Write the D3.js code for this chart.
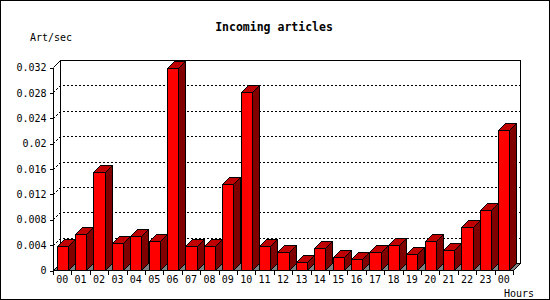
<!DOCTYPE html>
<html><head><meta charset="utf-8">
<script src="https://cdn.jsdelivr.net/npm/d3@7"></script>
<style>html,body{margin:0;padding:0;background:#fff}svg{display:block}</style>
</head><body>
<svg id="c" width="550" height="300"></svg>
<script>
const hours = ["00","01","02","03","04","05","06","07","08","09","10","11","12","13","14","15","16","17","18","19","20","21","22","23","00"];
const artPerSec = [0.0038,0.0056,0.0155,0.0042,0.0053,0.0045,0.0319,0.0038,0.0038,0.0136,0.0280,0.0038,0.0028,0.0012,0.0034,0.0020,0.0017,0.0028,0.0039,0.0025,0.0045,0.0031,0.0067,0.0094,0.0220];
const yTicks = [0,0.004,0.008,0.012,0.016,0.02,0.024,0.028,0.032];
const yTickLabels = ["0","0.004","0.008","0.012","0.016","0.02","0.024","0.028","0.032"];
const gridValues = [0.004,0.008,0.012,0.016,0.02,0.024,0.028];
const title = "Incoming articles";
const yTitle = "Art/sec";
const xTitle = "Hours";

const svg = d3.select("#c");
const mono = "'DejaVu Sans Mono', 'Liberation Mono', monospace";
const DX = 7, DY = 7;
const X0 = 53, X1 = 513, Y0 = 270, YT = 67;

const x = d3.scaleBand().domain(d3.range(hours.length)).range([X0, X1]).paddingInner(0.4).paddingOuter(0.2);
const step = x.step();
const y = d3.scaleLinear().domain([0, 0.032]).range([Y0, YT]);

// border
svg.append("rect").attr("x",0.5).attr("y",0.5).attr("width",549).attr("height",299)
  .attr("fill","#fff").attr("stroke","#000");

const g = svg.append("g").attr("shape-rendering","crispEdges");

// floor
const yb = y(0);
g.append("path")
  .attr("d", `M${X0+0.5},${yb+0.5}L${X1+0.5},${yb+0.5}L${X1+DX+0.5},${yb-DY+0.5}L${X0+DX+0.5},${yb-DY+0.5}Z`)
  .attr("fill","#808080").attr("stroke","#000");

// back wall lines
const ytop = y(0.032);
g.append("path")
  .attr("d", `M${X0+DX+0.5},${yb-DY+0.5}V${ytop-DY+0.5}H${X1+DX+0.5}V${yb-DY+0.5}`)
  .attr("fill","none").attr("stroke","#000");
g.append("path")
  .attr("d", `M${X0+0.5},${ytop+0.5}L${X0+DX+0.5},${ytop-DY+0.5}`)
  .attr("fill","none").attr("stroke","#000").attr("shape-rendering","auto");

// grid lines (dashed, diagonal then along back wall)
g.selectAll(".grid").data(gridValues).join("path")
  .attr("class","grid")
  .attr("d", v => `M${X0+0.5},${Math.round(y(v))+0.5}L${X0+DX+0.5},${Math.round(y(v))-DY+0.5}H${X1+DX+0.5}`)
  .attr("fill","none").attr("stroke","#000").attr("stroke-dasharray","2,2");

// y axis
const yAxis = d3.axisLeft(y).tickValues(yTicks).tickSize(4).tickPadding(3)
  .tickFormat((d,i) => yTickLabels[i]);
const ya = svg.append("g").attr("transform",`translate(${X0+0.5},0.5)`).call(yAxis);
ya.select(".domain").attr("d", `M0,${ytop}V${yb}`).attr("shape-rendering","crispEdges");
ya.selectAll(".tick line").attr("shape-rendering","crispEdges");
ya.selectAll("text").attr("font-family",mono).attr("font-size",10).attr("fill","#000");

// bars
const bars = g.selectAll(".bar").data(artPerSec).join("g").attr("class","bar");
const bw = x.bandwidth();
bars.append("path").attr("fill","#800000").attr("stroke","#000")
  .attr("d",(d,i)=>{const xl=Math.round(x(i))+0.5, xr=Math.round(x(i)+bw)+0.5, yt=Math.round(y(d))+0.5;
    return `M${xr},${yb+0.5}L${xr},${yt}L${xr+DX},${yt-DY}L${xr+DX},${yb-DY+0.5}Z`;});
bars.append("path").attr("fill","#c00000").attr("stroke","#000")
  .attr("d",(d,i)=>{const xl=Math.round(x(i))+0.5, xr=Math.round(x(i)+bw)+0.5, yt=Math.round(y(d))+0.5;
    return `M${xl},${yt}L${xr},${yt}L${xr+DX},${yt-DY}L${xl+DX},${yt-DY}Z`;});
bars.append("path").attr("fill","#ff0000").attr("stroke","#000")
  .attr("d",(d,i)=>{const xl=Math.round(x(i))+0.5, xr=Math.round(x(i)+bw)+0.5, yt=Math.round(y(d))+0.5;
    return `M${xl},${yb+0.5}V${yt}H${xr}V${yb+0.5}Z`;});

// x axis
const xa = svg.append("g").attr("shape-rendering","crispEdges");
xa.append("line").attr("x1",X0+0.5).attr("x2",X1+0.5).attr("y1",yb+0.5).attr("y2",yb+0.5).attr("stroke","#000");
xa.selectAll(".xt").data(d3.range(hours.length+1)).join("line")
  .attr("x1",i=>Math.round(X0+i*step)+0.5).attr("x2",i=>Math.round(X0+i*step)+0.5)
  .attr("y1",yb).attr("y2",yb+5).attr("stroke","#000");
svg.selectAll(".xl").data(hours).join("text")
  .attr("x",(d,i)=>x(i)+bw/2).attr("y",279).attr("dy","0.35em")
  .attr("text-anchor","middle").attr("font-family",mono).attr("font-size",10).text(d=>d);

// titles
svg.append("text").attr("x",274).attr("y",27).attr("dy","0.35em").attr("text-anchor","middle")
  .attr("font-family",mono).attr("font-size",11.5).attr("font-weight","bold").text(title);
svg.append("text").attr("x",30).attr("y",37).attr("dy","0.35em")
  .attr("font-family",mono).attr("font-size",10).text(yTitle);
svg.append("text").attr("x",504).attr("y",293).attr("dy","0.35em")
  .attr("font-family",mono).attr("font-size",10).text(xTitle);
</script>
</body></html>
